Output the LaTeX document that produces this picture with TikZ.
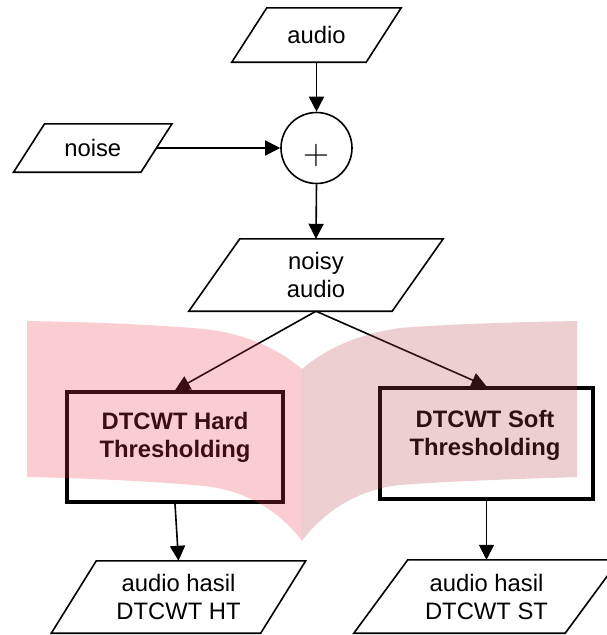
\documentclass[tikz,border=0pt]{standalone}
\usepackage{fontspec}
\setmainfont{Liberation Sans}
\newfontfamily\lmplusfont{Latin Modern Roman}
\usetikzlibrary{arrows.meta,calc}
\tikzset{
  txt/.style={font=\fontsize{23.8}{28}\selectfont, align=center},
  io/.style={txt, inner sep=0pt},
  sumnode/.style={circle, draw, line width=1.6pt, minimum size=71pt, inner sep=0pt},
  procbox/.style={draw, line width=3.5pt, inner sep=0pt},
  btext/.style={font=\bfseries\fontsize{23.8}{28}\selectfont, align=center, inner sep=0pt},
  conn/.style={line width=1.6pt, -{Triangle[length=15pt,width=15pt]}},
  outline/.style={line width=1.6pt, line join=miter},
  pageleft/.style={fill={rgb,255:red,235;green,59;blue,75}, fill opacity=0.25},
  pageright/.style={fill={rgb,255:red,187;green,67;blue,79}, fill opacity=0.25}
}
\newcommand\drawpara[2]{\draw[outline] ($(#1.north west)+(#2,0)$) -- ($(#1.north east)+(#2,0)$) -- ($(#1.south east)+(-#2,0)$) -- ($(#1.south west)+(-#2,0)$) -- cycle;}
\begin{document}
\begin{tikzpicture}[x=1pt,y=-1pt]
\fill[white] (0,0) rectangle (606,635);
\useasboundingbox (0,0) rectangle (606,635);

% input / output nodes
\node[io, minimum width=134pt, minimum height=54pt] (audio) at (316.5,35) {audio};
\drawpara{audio}{17.5}
\node[io, minimum width=127pt, minimum height=48pt] (noise) at (92.75,148) {noise};
\drawpara{noise}{15.5}
\node[sumnode] (sum) at (316.5,148) {};
\node[font=\lmplusfont\fontsize{36}{36}\selectfont, inner sep=0pt] (plus) at (316,155.5) {+};
\node[io, minimum width=203pt, minimum height=72pt] (noisy) at (316,275) {noisy\\audio};
\drawpara{noisy}{25.5}

% processing boxes
\node[procbox, minimum width=216pt, minimum height=110pt] (hard) at (175,447) {};
\node[btext, anchor=north] (hardtxt) at (175,412) {DTCWT Hard\\Thresholding};
\node[procbox, minimum width=213pt, minimum height=111pt] (soft) at (486.5,443.5) {};
\node[btext, anchor=north] (softtxt) at (485,410.5) {DTCWT Soft\\Thresholding};

% outputs
\node[io, minimum width=209pt, minimum height=72pt] (ht) at (178.5,597) {audio hasil\\DTCWT HT};
\drawpara{ht}{22.5}
\node[io, minimum width=211pt, minimum height=73pt] (st) at (486.5,596.5) {audio hasil\\DTCWT ST};
\drawpara{st}{27}

% connectors
\draw[conn] (audio.south) -- (sum.north);
\draw[conn] (noise.east) -- (sum.west);
\draw[conn] (sum.south) -- (noisy.north);
\draw[conn] (noisy.south) -- (hard.north);
\draw[conn] (noisy.south) -- (soft.north);
\draw[conn] (hard.south) -- (ht.north);
\draw[conn] (soft.south) -- (st.north);

% watermark (open book)
\fill[pageleft] (302,369) .. controls (282,352) and (250,334) .. (204,329)
  .. controls (150,324) and (80,322) .. (27,321) -- (27,477)
  .. controls (80,478) and (150,481) .. (204,486)
  .. controls (244,490) and (279,510) .. (302,541) -- cycle;
\fill[pageright] (302,369) .. controls (322,352) and (352,335) .. (400,328)
  .. controls (450,324) and (520,322) .. (577,321) -- (577,477)
  .. controls (520,479) and (450,481) .. (400,485)
  .. controls (360,489) and (325,510) .. (302,541) -- cycle;
\end{tikzpicture}
\end{document}
